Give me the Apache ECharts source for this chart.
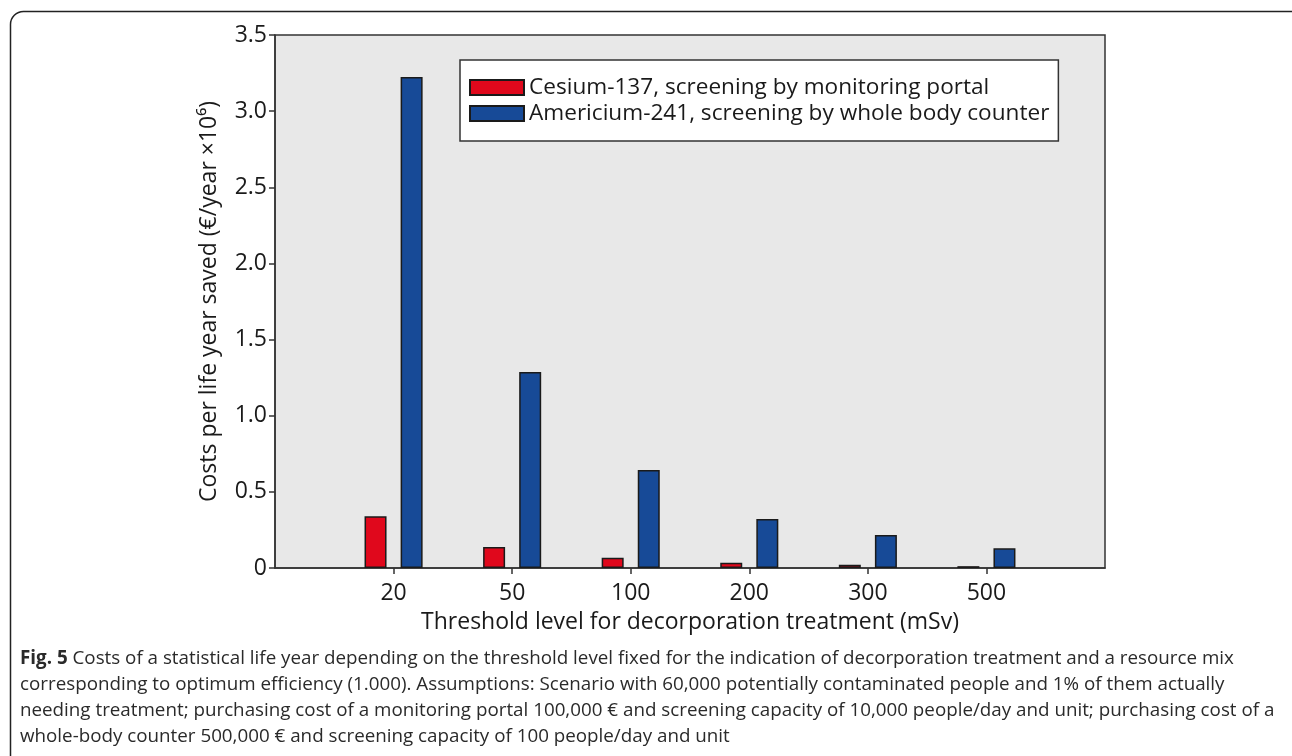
<!DOCTYPE html>
<html>
<head>
<meta charset="utf-8">
<style>
  html, body { margin: 0; padding: 0; background: #ffffff; }
  #chart { width: 1292px; height: 756px; }
</style>
<script src="https://cdn.jsdelivr.net/npm/echarts@6/dist/echarts.min.js"></script>
</head>
<body>
<div id="chart"></div>
<script>
// Threshold levels (mSv) for decorporation treatment
const thresholds = ['20', '50', '100', '200', '300', '500'];

// Costs per life year saved (€/year × 10^6)
const cesiumPortal = [0.34, 0.138, 0.068, 0.035, 0.021, 0.012];
const americiumCounter = [3.225, 1.287, 0.643, 0.322, 0.216, 0.129];

const seriesNames = [
  'Cesium-137, screening by monitoring portal',
  'Americium-241, screening by whole body counter'
];

const yTicks = { min: 0, max: 3.5, interval: 0.5 };

const captionLines = [
  '{b|Fig. 5} Costs of a statistical life year depending on the threshold level fixed for the indication of decorporation treatment and a resource mix',
  'corresponding to optimum efficiency (1.000). Assumptions: Scenario with 60,000 potentially contaminated people and 1% of them actually',
  'needing treatment; purchasing cost of a monitoring portal 100,000 € and screening capacity of 10,000 people/day and unit; purchasing cost of a',
  'whole-body counter 500,000 € and screening capacity of 100 people/day and unit'
];

// Empty slots at both ends give the axis its outer margins
const xCategories = [''].concat(thresholds, ['']);
const pad = arr => [null].concat(arr, [null]);

const FONT = "'Open Sans', 'Noto Sans', sans-serif";
const INK = '#1a1a1a';
const AXIS_FS = 23;

const chart = echarts.init(document.getElementById('chart'), null, { renderer: 'canvas' });

const captionGraphics = captionLines.map((line, i) => ({
  type: 'text',
  left: 20,
  top: 649 + i * 26,
  style: {
    text: line,
    fontFamily: FONT,
    fontSize: 18.8,
    fill: '#2a2a2a',
    rich: {
      b: { fontFamily: FONT, fontSize: 18.8, fontWeight: 'bold', fill: '#2a2a2a' }
    }
  }
}));

chart.setOption({
  animation: false,
  textStyle: { fontFamily: FONT, color: INK },
  grid: {
    left: 275, top: 35, right: 187, bottom: 188,
    show: true,
    backgroundColor: '#e8e8e8',
    borderColor: '#333333',
    borderWidth: 1.5
  },
  legend: {
    left: 460, top: 60,
    orient: 'vertical',
    itemWidth: 54, itemHeight: 15, itemGap: 1,
    padding: [15, 9, 15, 9],
    backgroundColor: '#ffffff',
    borderColor: '#333333',
    borderWidth: 1.5,
    borderRadius: 0,
    icon: 'rect',
    textStyle: { fontFamily: FONT, fontSize: 22.6, color: INK, lineHeight: 25 },
    data: seriesNames
  },
  xAxis: {
    type: 'category',
    data: xCategories,
    boundaryGap: false,
    name: 'Threshold level for decorporation treatment (mSv)',
    nameLocation: 'middle',
    nameGap: 43,
    nameTextStyle: { fontFamily: FONT, fontSize: AXIS_FS, color: INK },
    axisLine: { lineStyle: { color: '#333333', width: 1.5 } },
    axisTick: {
      show: true, length: 6, alignWithLabel: true,
      interval: (idx) => idx > 0 && idx < xCategories.length - 1,
      lineStyle: { color: '#333333', width: 1.5 }
    },
    axisLabel: { fontFamily: FONT, fontSize: AXIS_FS, color: INK, margin: 14, interval: 0 },
    splitLine: { show: false }
  },
  yAxis: {
    type: 'value',
    min: yTicks.min, max: yTicks.max, interval: yTicks.interval,
    name: 'Costs per life year saved (€/year ×10⁶)',
    nameLocation: 'middle',
    nameGap: 54,
    nameRotate: 90,
    nameTextStyle: { fontFamily: FONT, fontSize: AXIS_FS, color: INK },
    axisLine: { show: true, lineStyle: { color: '#333333', width: 1.5 } },
    axisTick: { show: true, length: 6, lineStyle: { color: '#333333', width: 1.5 } },
    axisLabel: {
      fontFamily: FONT, fontSize: AXIS_FS, color: INK, margin: 8,
      formatter: v => (v === 0 ? '0' : v.toFixed(1))
    },
    splitLine: { show: false }
  },
  series: [
    {
      name: seriesNames[0],
      type: 'bar',
      data: pad(cesiumPortal),
      barWidth: 22,
      barGap: '64%',
      itemStyle: { color: '#e0081c', borderColor: '#1a1a1a', borderWidth: 1.5 }
    },
    {
      name: seriesNames[1],
      type: 'bar',
      data: pad(americiumCounter),
      barWidth: 22,
      barGap: '64%',
      itemStyle: { color: '#174a97', borderColor: '#1a1a1a', borderWidth: 1.5 }
    }
  ],
  graphic: [
    {
      type: 'rect',
      left: 8, top: 9,
      shape: { width: 1320, height: 800, r: 13 },
      style: { fill: 'none', stroke: '#222222', lineWidth: 1.5 },
      z: -10
    }
  ].concat(captionGraphics)
});
</script>
</body>
</html>
